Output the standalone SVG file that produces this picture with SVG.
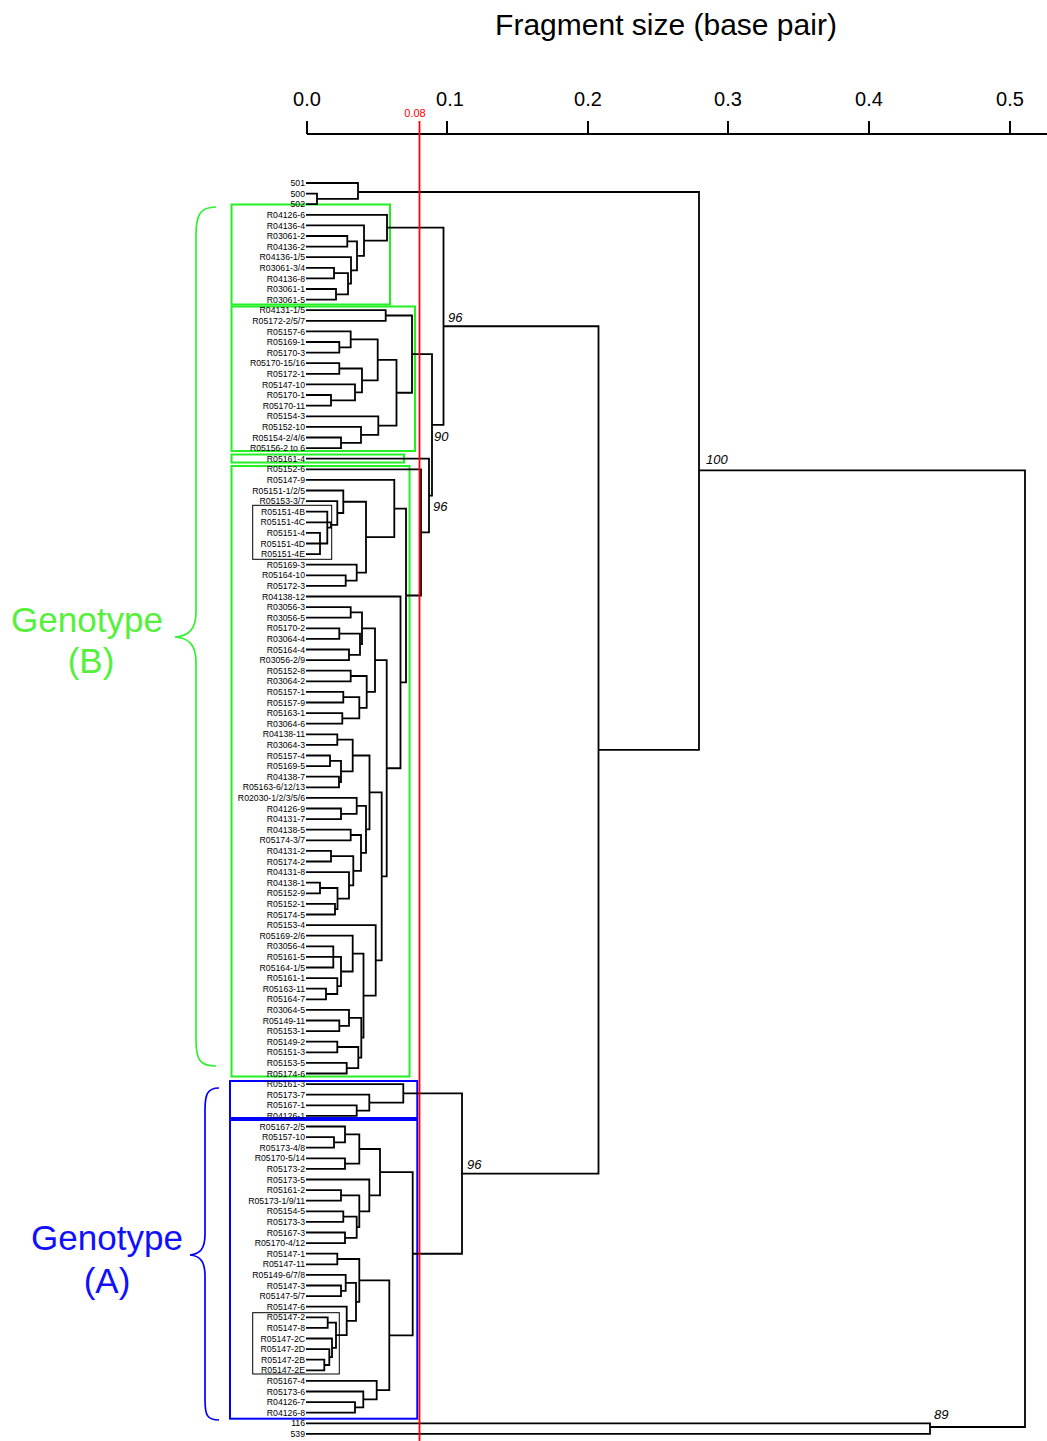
<svg xmlns="http://www.w3.org/2000/svg" width="1047" height="1441" viewBox="0 0 1047 1441">
<style>
.lf{font-family:"Liberation Sans",Arial,sans-serif;font-size:8.7px;text-anchor:end;fill:#000}
.t{fill:none;stroke:#000;stroke-width:1.8}
.bs{font-family:"Liberation Sans",Arial,sans-serif;font-size:13px;font-style:italic;fill:#000}
.ax{font-family:"Liberation Sans",Arial,sans-serif;font-size:20px;text-anchor:middle;fill:#000}
.gb{fill:none;stroke:#22f022;stroke-width:2}
.bb{fill:none;stroke:#0000ff;stroke-width:2}
.kb{fill:none;stroke:#000;stroke-width:1}
.gt{font-family:"Liberation Sans",Arial,sans-serif;font-size:35px;text-anchor:middle;fill:#55f03c}
.bt{font-family:"Liberation Sans",Arial,sans-serif;font-size:35px;text-anchor:middle;fill:#1010ff}
</style>
<rect width="1047" height="1441" fill="#fff"/>
<g id="title"><text x="666" y="35" font-family="Liberation Sans, Arial, sans-serif" font-size="30" text-anchor="middle">Fragment size (base pair)</text></g>
<g id="axis">
<path d="M307 134H1047M307 121V134M447 121V134M588 121V134M728 121V134M869 121V134M1010 121V134" fill="none" stroke="#000" stroke-width="2"/>
<text class="ax" x="307" y="106">0.0</text>
<text class="ax" x="450" y="106">0.1</text>
<text class="ax" x="588" y="106">0.2</text>
<text class="ax" x="728" y="106">0.3</text>
<text class="ax" x="869" y="106">0.4</text>
<text class="ax" x="1010" y="106">0.5</text>
</g>
<g id="boxes">
<rect class="gb" x="231.5" y="204.5" width="158.5" height="100"/>
<rect class="gb" x="231.5" y="306.5" width="183.5" height="144.5"/>
<rect class="gb" x="231.5" y="454.5" width="172.5" height="8"/>
<rect class="gb" x="231.5" y="466" width="178" height="610.5"/>
<rect class="bb" x="230" y="1081" width="187.3" height="37"/>
<rect class="bb" x="230" y="1120" width="187.3" height="298.7"/>
<rect class="kb" x="252.7" y="505.3" width="79" height="54"/>
<rect class="kb" x="252.7" y="1312.7" width="86.6" height="61.3"/>
</g>
<g id="braces">
<path d="M216 207C200 207 196 215 196 235L196 612C196 630 188 636 175 637C188 638 196 644 196 662L196 1040C196 1060 200 1066 216 1066" fill="none" stroke="#33f033" stroke-width="1.7"/>
<path d="M219 1088C207 1088 205 1095 205 1110L205 1234C205 1249 200 1254 190 1255C200 1256 205 1261 205 1276L205 1400C205 1415 207 1420 219 1420" fill="none" stroke="#0000ff" stroke-width="1.7"/>
</g>
<g id="genotype-b"><text class="gt" x="87" y="632">Genotype</text><text class="gt" x="91" y="673">(B)</text></g>
<g id="genotype-a"><text class="bt" x="107" y="1250">Genotype</text><text class="bt" x="107" y="1293">(A)</text></g>
<g id="connectors">
<path class="t" d="M306 193.6H317V204.2H306"/>
<path class="t" d="M306 183H358V198.9H317"/>
<path class="t" d="M306 236H347.3V246.6H306"/>
<path class="t" d="M306 267.8H334V278.4H306"/>
<path class="t" d="M306 289H336V299.6H306"/>
<path class="t" d="M334 273.1H348V294.3H336"/>
<path class="t" d="M306 257.2H351V283.7H348"/>
<path class="t" d="M347.3 241.3H357V270.45H351"/>
<path class="t" d="M306 225.4H364V255.9H357"/>
<path class="t" d="M306 214.8H387V240.6H364"/>
<path class="t" d="M306 310.2H385.7V320.8H306"/>
<path class="t" d="M306 342H339.3V352.6H306"/>
<path class="t" d="M306 331.4H350.7V347.3H339.3"/>
<path class="t" d="M306 363.2H339.3V373.8H306"/>
<path class="t" d="M306 395H331V405.7H306"/>
<path class="t" d="M306 384.4H355V400.35H331"/>
<path class="t" d="M339.3 368.5H362V392.4H355"/>
<path class="t" d="M350.7 339.35H377.7V380.45H362"/>
<path class="t" d="M306 437.5H341V448.1H306"/>
<path class="t" d="M306 426.9H361V442.8H341"/>
<path class="t" d="M306 416.3H378.3V434.85H361"/>
<path class="t" d="M377.7 359.9H396.5V425.6H378.3"/>
<path class="t" d="M385.7 315.5H412V392.75H396.5"/>
<path class="t" d="M306 532.9H320V554.1H306M306 543.5H320"/>
<path class="t" d="M306 511.7H327.3V543.5H320"/>
<path class="t" d="M306 522.3H331V527.6H327.3"/>
<path class="t" d="M306 501.1H337.3V524.95H331"/>
<path class="t" d="M306 490.5H343.3V513H337.3"/>
<path class="t" d="M306 575.3H345.7V585.9H306"/>
<path class="t" d="M306 564.7H356.7V580.6H345.7"/>
<path class="t" d="M343.3 501.75H366V572.65H356.7"/>
<path class="t" d="M306 479.9H394.3V537.2H366"/>
<path class="t" d="M306 607.1H350.7V617.7H306"/>
<path class="t" d="M306 628.3H339.3V638.9H306"/>
<path class="t" d="M306 649.5H349V660.1H306"/>
<path class="t" d="M339.3 633.6H360V654.8H349"/>
<path class="t" d="M350.7 612.4H362V644.2H360"/>
<path class="t" d="M306 670.7H350.7V681.3H306"/>
<path class="t" d="M306 691.9H343.3V702.5H306"/>
<path class="t" d="M306 713.1H342.3V723.7H306"/>
<path class="t" d="M343.3 697.2H359.3V718.4H342.3"/>
<path class="t" d="M350.7 676H366.7V707.8H359.3"/>
<path class="t" d="M362 628.3H375V691.9H366.7"/>
<path class="t" d="M306 734.3H337.3V744.9H306"/>
<path class="t" d="M306 755.5H330V766.1H306"/>
<path class="t" d="M306 776.7H339V787.3H306"/>
<path class="t" d="M330 760.8H341V782H339"/>
<path class="t" d="M337.3 739.6H352.7V771.4H341"/>
<path class="t" d="M306 808.5H341V819.1H306"/>
<path class="t" d="M306 797.9H356.7V813.8H341"/>
<path class="t" d="M306 829.7H350.7V840.3H306"/>
<path class="t" d="M306 850.9H331V861.5H306"/>
<path class="t" d="M306 882.7H320V893.3H306"/>
<path class="t" d="M306 903.9H335V914.5H306"/>
<path class="t" d="M320 888H337.5V909.2H335"/>
<path class="t" d="M306 872.1H349V898.6H337.5"/>
<path class="t" d="M331 856.2H353.3V885.35H349"/>
<path class="t" d="M350.7 835H361V870.8H353.3"/>
<path class="t" d="M356.7 805.85H366V852.9H361"/>
<path class="t" d="M352.7 755.5H369.5V829.4H366"/>
<path class="t" d="M306 946.3H333.3V967.5H306M306 956.9H333.3"/>
<path class="t" d="M306 988.7H326V999.3H306"/>
<path class="t" d="M306 978.1H337.3V994H326"/>
<path class="t" d="M333.3 956.9H341V986.05H337.3"/>
<path class="t" d="M306 935.7H352.7V971.5H341"/>
<path class="t" d="M306 1020.5H339.3V1031.1H306"/>
<path class="t" d="M306 1009.9H349V1025.8H339.3"/>
<path class="t" d="M306 1041.7H337.3V1052.3H306"/>
<path class="t" d="M306 1062.9H346.7V1073.5H306"/>
<path class="t" d="M337.3 1047H358.3V1068.2H346.7"/>
<path class="t" d="M349 1017.85H361.3V1057.6H358.3"/>
<path class="t" d="M352.7 953.6H363.5V1037.7H361.3"/>
<path class="t" d="M306 925.1H375.7V995.65H363.5"/>
<path class="t" d="M369.5 792.45H381.7V960.4H375.7"/>
<path class="t" d="M375 660.1H386.7V876.4H381.7"/>
<path class="t" d="M306 596.5H400.5V768.25H386.7"/>
<path class="t" d="M394.3 508.55H406V682.4H400.5"/>
<path class="t" d="M306 469.3H421V595.5H406"/>
<path class="t" d="M306 458.7H429V532.4H421"/>
<path class="t" d="M412 354.1H432V495.55H429"/>
<path class="t" d="M387 227.7H443.5V424.8H432"/>
<path class="t" d="M306 1105.3H356.7V1115.9H306"/>
<path class="t" d="M306 1094.7H369.3V1110.6H356.7"/>
<path class="t" d="M306 1084.1H403.3V1102.65H369.3"/>
<path class="t" d="M306 1137.1H334V1147.7H306"/>
<path class="t" d="M306 1126.5H345V1142.4H334"/>
<path class="t" d="M306 1158.3H345V1168.9H306"/>
<path class="t" d="M345 1134.45H359.3V1163.6H345"/>
<path class="t" d="M306 1190.1H341V1200.7H306"/>
<path class="t" d="M306 1211.3H343.3V1221.9H306"/>
<path class="t" d="M306 1232.5H345V1243.1H306"/>
<path class="t" d="M343.3 1216.6H356.7V1237.8H345"/>
<path class="t" d="M341 1195.4H359.3V1227.2H356.7"/>
<path class="t" d="M306 1179.5H369.3V1211.3H359.3"/>
<path class="t" d="M359.3 1149H380V1195.4H369.3"/>
<path class="t" d="M306 1253.7H337.3V1264.3H306"/>
<path class="t" d="M306 1285.5H341V1296.1H306"/>
<path class="t" d="M306 1274.9H345.7V1290.8H341"/>
<path class="t" d="M306 1359.7H324.3V1370.3H306"/>
<path class="t" d="M306 1349.1H329.3V1365H324.3"/>
<path class="t" d="M306 1338.5H332V1357.05H329.3"/>
<path class="t" d="M306 1317.3H327.7V1327.9H306"/>
<path class="t" d="M327.7 1322.6H336V1347.8H332"/>
<path class="t" d="M306 1306.7H346.7V1335.2H336"/>
<path class="t" d="M345.7 1282.85H356V1320.95H346.7"/>
<path class="t" d="M337.3 1259H359.3V1301.9H356"/>
<path class="t" d="M306 1402.1H355V1412.7H306"/>
<path class="t" d="M306 1391.5H363.3V1407.4H355"/>
<path class="t" d="M306 1380.9H376.7V1399.45H363.3"/>
<path class="t" d="M359.3 1280.45H389.3V1390.2H376.7"/>
<path class="t" d="M380 1172.2H412.7V1335.3H389.3"/>
<path class="t" d="M403.3 1093.4H462V1253.75H412.7"/>
<path class="t" d="M443.5 326.25H598.5V1173.6H462"/>
<path class="t" d="M358 192H699V749.9H598.5"/>
<path class="t" d="M306 1423.3H930V1433.9H306"/>
<path class="t" d="M699 470.4H1025V1427H930"/>
</g>
<g id="support">
<text class="bs" x="448" y="322">96</text>
<text class="bs" x="434" y="441">90</text>
<text class="bs" x="433" y="511">96</text>
<text class="bs" x="706" y="464">100</text>
<text class="bs" x="467" y="1169">96</text>
<text class="bs" x="934" y="1419">89</text>
</g>
<g id="cutoff">
<path d="M419.5 121V1441" stroke="#ff0000" stroke-width="1.8" fill="none"/>
<text x="415" y="117" font-family="Liberation Sans, Arial, sans-serif" font-size="11" fill="#ff0000" text-anchor="middle">0.08</text>
</g>
<g id="leaves">
<g id="L1"><text class="lf" x="305" y="186.1">501</text></g>
<g id="L2"><text class="lf" x="305" y="196.7">500</text></g>
<g id="L3"><text class="lf" x="305" y="207.3">502</text></g>
<g id="L4"><text class="lf" x="305" y="217.9">R04126-6</text></g>
<g id="L5"><text class="lf" x="305" y="228.5">R04136-4</text></g>
<g id="L6"><text class="lf" x="305" y="239.1">R03061-2</text></g>
<g id="L7"><text class="lf" x="305" y="249.7">R04136-2</text></g>
<g id="L8"><text class="lf" x="305" y="260.3">R04136-1/5</text></g>
<g id="L9"><text class="lf" x="305" y="270.9">R03061-3/4</text></g>
<g id="L10"><text class="lf" x="305" y="281.5">R04136-8</text></g>
<g id="L11"><text class="lf" x="305" y="292.1">R03061-1</text></g>
<g id="L12"><text class="lf" x="305" y="302.7">R03061-5</text></g>
<g id="L13"><text class="lf" x="305" y="313.3">R04131-1/5</text></g>
<g id="L14"><text class="lf" x="305" y="323.9">R05172-2/5/7</text></g>
<g id="L15"><text class="lf" x="305" y="334.5">R05157-6</text></g>
<g id="L16"><text class="lf" x="305" y="345.1">R05169-1</text></g>
<g id="L17"><text class="lf" x="305" y="355.7">R05170-3</text></g>
<g id="L18"><text class="lf" x="305" y="366.3">R05170-15/16</text></g>
<g id="L19"><text class="lf" x="305" y="376.9">R05172-1</text></g>
<g id="L20"><text class="lf" x="305" y="387.5">R05147-10</text></g>
<g id="L21"><text class="lf" x="305" y="398.1">R05170-1</text></g>
<g id="L22"><text class="lf" x="305" y="408.8">R05170-11</text></g>
<g id="L23"><text class="lf" x="305" y="419.4">R05154-3</text></g>
<g id="L24"><text class="lf" x="305" y="430">R05152-10</text></g>
<g id="L25"><text class="lf" x="305" y="440.6">R05154-2/4/6</text></g>
<g id="L26"><text class="lf" x="305" y="451.2">R05156-2 to 6</text></g>
<g id="L27"><text class="lf" x="305" y="461.8">R05161-4</text></g>
<g id="L28"><text class="lf" x="305" y="472.4">R05152-6</text></g>
<g id="L29"><text class="lf" x="305" y="483">R05147-9</text></g>
<g id="L30"><text class="lf" x="305" y="493.6">R05151-1/2/5</text></g>
<g id="L31"><text class="lf" x="305" y="504.2">R05153-3/7</text></g>
<g id="L32"><text class="lf" x="305" y="514.8">R05151-4B</text></g>
<g id="L33"><text class="lf" x="305" y="525.4">R05151-4C</text></g>
<g id="L34"><text class="lf" x="305" y="536">R05151-4</text></g>
<g id="L35"><text class="lf" x="305" y="546.6">R05151-4D</text></g>
<g id="L36"><text class="lf" x="305" y="557.2">R05151-4E</text></g>
<g id="L37"><text class="lf" x="305" y="567.8">R05169-3</text></g>
<g id="L38"><text class="lf" x="305" y="578.4">R05164-10</text></g>
<g id="L39"><text class="lf" x="305" y="589">R05172-3</text></g>
<g id="L40"><text class="lf" x="305" y="599.6">R04138-12</text></g>
<g id="L41"><text class="lf" x="305" y="610.2">R03056-3</text></g>
<g id="L42"><text class="lf" x="305" y="620.8">R03056-5</text></g>
<g id="L43"><text class="lf" x="305" y="631.4">R05170-2</text></g>
<g id="L44"><text class="lf" x="305" y="642">R03064-4</text></g>
<g id="L45"><text class="lf" x="305" y="652.6">R05164-4</text></g>
<g id="L46"><text class="lf" x="305" y="663.2">R03056-2/9</text></g>
<g id="L47"><text class="lf" x="305" y="673.8">R05152-8</text></g>
<g id="L48"><text class="lf" x="305" y="684.4">R03064-2</text></g>
<g id="L49"><text class="lf" x="305" y="695">R05157-1</text></g>
<g id="L50"><text class="lf" x="305" y="705.6">R05157-9</text></g>
<g id="L51"><text class="lf" x="305" y="716.2">R05163-1</text></g>
<g id="L52"><text class="lf" x="305" y="726.8">R03064-6</text></g>
<g id="L53"><text class="lf" x="305" y="737.4">R04138-11</text></g>
<g id="L54"><text class="lf" x="305" y="748">R03064-3</text></g>
<g id="L55"><text class="lf" x="305" y="758.6">R05157-4</text></g>
<g id="L56"><text class="lf" x="305" y="769.2">R05169-5</text></g>
<g id="L57"><text class="lf" x="305" y="779.8">R04138-7</text></g>
<g id="L58"><text class="lf" x="305" y="790.4">R05163-6/12/13</text></g>
<g id="L59"><text class="lf" x="305" y="801">R02030-1/2/3/5/6</text></g>
<g id="L60"><text class="lf" x="305" y="811.6">R04126-9</text></g>
<g id="L61"><text class="lf" x="305" y="822.2">R04131-7</text></g>
<g id="L62"><text class="lf" x="305" y="832.8">R04138-5</text></g>
<g id="L63"><text class="lf" x="305" y="843.4">R05174-3/7</text></g>
<g id="L64"><text class="lf" x="305" y="854">R04131-2</text></g>
<g id="L65"><text class="lf" x="305" y="864.6">R05174-2</text></g>
<g id="L66"><text class="lf" x="305" y="875.2">R04131-8</text></g>
<g id="L67"><text class="lf" x="305" y="885.8">R04138-1</text></g>
<g id="L68"><text class="lf" x="305" y="896.4">R05152-9</text></g>
<g id="L69"><text class="lf" x="305" y="907">R05152-1</text></g>
<g id="L70"><text class="lf" x="305" y="917.6">R05174-5</text></g>
<g id="L71"><text class="lf" x="305" y="928.2">R05153-4</text></g>
<g id="L72"><text class="lf" x="305" y="938.8">R05169-2/6</text></g>
<g id="L73"><text class="lf" x="305" y="949.4">R03056-4</text></g>
<g id="L74"><text class="lf" x="305" y="960">R05161-5</text></g>
<g id="L75"><text class="lf" x="305" y="970.6">R05164-1/5</text></g>
<g id="L76"><text class="lf" x="305" y="981.2">R05161-1</text></g>
<g id="L77"><text class="lf" x="305" y="991.8">R05163-11</text></g>
<g id="L78"><text class="lf" x="305" y="1002.4">R05164-7</text></g>
<g id="L79"><text class="lf" x="305" y="1013">R03064-5</text></g>
<g id="L80"><text class="lf" x="305" y="1023.6">R05149-11</text></g>
<g id="L81"><text class="lf" x="305" y="1034.2">R05153-1</text></g>
<g id="L82"><text class="lf" x="305" y="1044.8">R05149-2</text></g>
<g id="L83"><text class="lf" x="305" y="1055.4">R05151-3</text></g>
<g id="L84"><text class="lf" x="305" y="1066">R05153-5</text></g>
<g id="L85"><text class="lf" x="305" y="1076.6">R05174-6</text></g>
<g id="L86"><text class="lf" x="305" y="1087.2">R05161-3</text></g>
<g id="L87"><text class="lf" x="305" y="1097.8">R05173-7</text></g>
<g id="L88"><text class="lf" x="305" y="1108.4">R05167-1</text></g>
<g id="L89"><text class="lf" x="305" y="1119">R04126-1</text></g>
<g id="L90"><text class="lf" x="305" y="1129.6">R05167-2/5</text></g>
<g id="L91"><text class="lf" x="305" y="1140.2">R05157-10</text></g>
<g id="L92"><text class="lf" x="305" y="1150.8">R05173-4/8</text></g>
<g id="L93"><text class="lf" x="305" y="1161.4">R05170-5/14</text></g>
<g id="L94"><text class="lf" x="305" y="1172">R05173-2</text></g>
<g id="L95"><text class="lf" x="305" y="1182.6">R05173-5</text></g>
<g id="L96"><text class="lf" x="305" y="1193.2">R05161-2</text></g>
<g id="L97"><text class="lf" x="305" y="1203.8">R05173-1/9/11</text></g>
<g id="L98"><text class="lf" x="305" y="1214.4">R05154-5</text></g>
<g id="L99"><text class="lf" x="305" y="1225">R05173-3</text></g>
<g id="L100"><text class="lf" x="305" y="1235.6">R05167-3</text></g>
<g id="L101"><text class="lf" x="305" y="1246.2">R05170-4/12</text></g>
<g id="L102"><text class="lf" x="305" y="1256.8">R05147-1</text></g>
<g id="L103"><text class="lf" x="305" y="1267.4">R05147-11</text></g>
<g id="L104"><text class="lf" x="305" y="1278">R05149-6/7/8</text></g>
<g id="L105"><text class="lf" x="305" y="1288.6">R05147-3</text></g>
<g id="L106"><text class="lf" x="305" y="1299.2">R05147-5/7</text></g>
<g id="L107"><text class="lf" x="305" y="1309.8">R05147-6</text></g>
<g id="L108"><text class="lf" x="305" y="1320.4">R05147-2</text></g>
<g id="L109"><text class="lf" x="305" y="1331">R05147-8</text></g>
<g id="L110"><text class="lf" x="305" y="1341.6">R05147-2C</text></g>
<g id="L111"><text class="lf" x="305" y="1352.2">R05147-2D</text></g>
<g id="L112"><text class="lf" x="305" y="1362.8">R05147-2B</text></g>
<g id="L113"><text class="lf" x="305" y="1373.4">R05147-2E</text></g>
<g id="L114"><text class="lf" x="305" y="1384">R05167-4</text></g>
<g id="L115"><text class="lf" x="305" y="1394.6">R05173-6</text></g>
<g id="L116"><text class="lf" x="305" y="1405.2">R04126-7</text></g>
<g id="L117"><text class="lf" x="305" y="1415.8">R04126-8</text></g>
<g id="L118"><text class="lf" x="305" y="1426.4">116</text></g>
<g id="L119"><text class="lf" x="305" y="1437">539</text></g>
</g>
</svg>
